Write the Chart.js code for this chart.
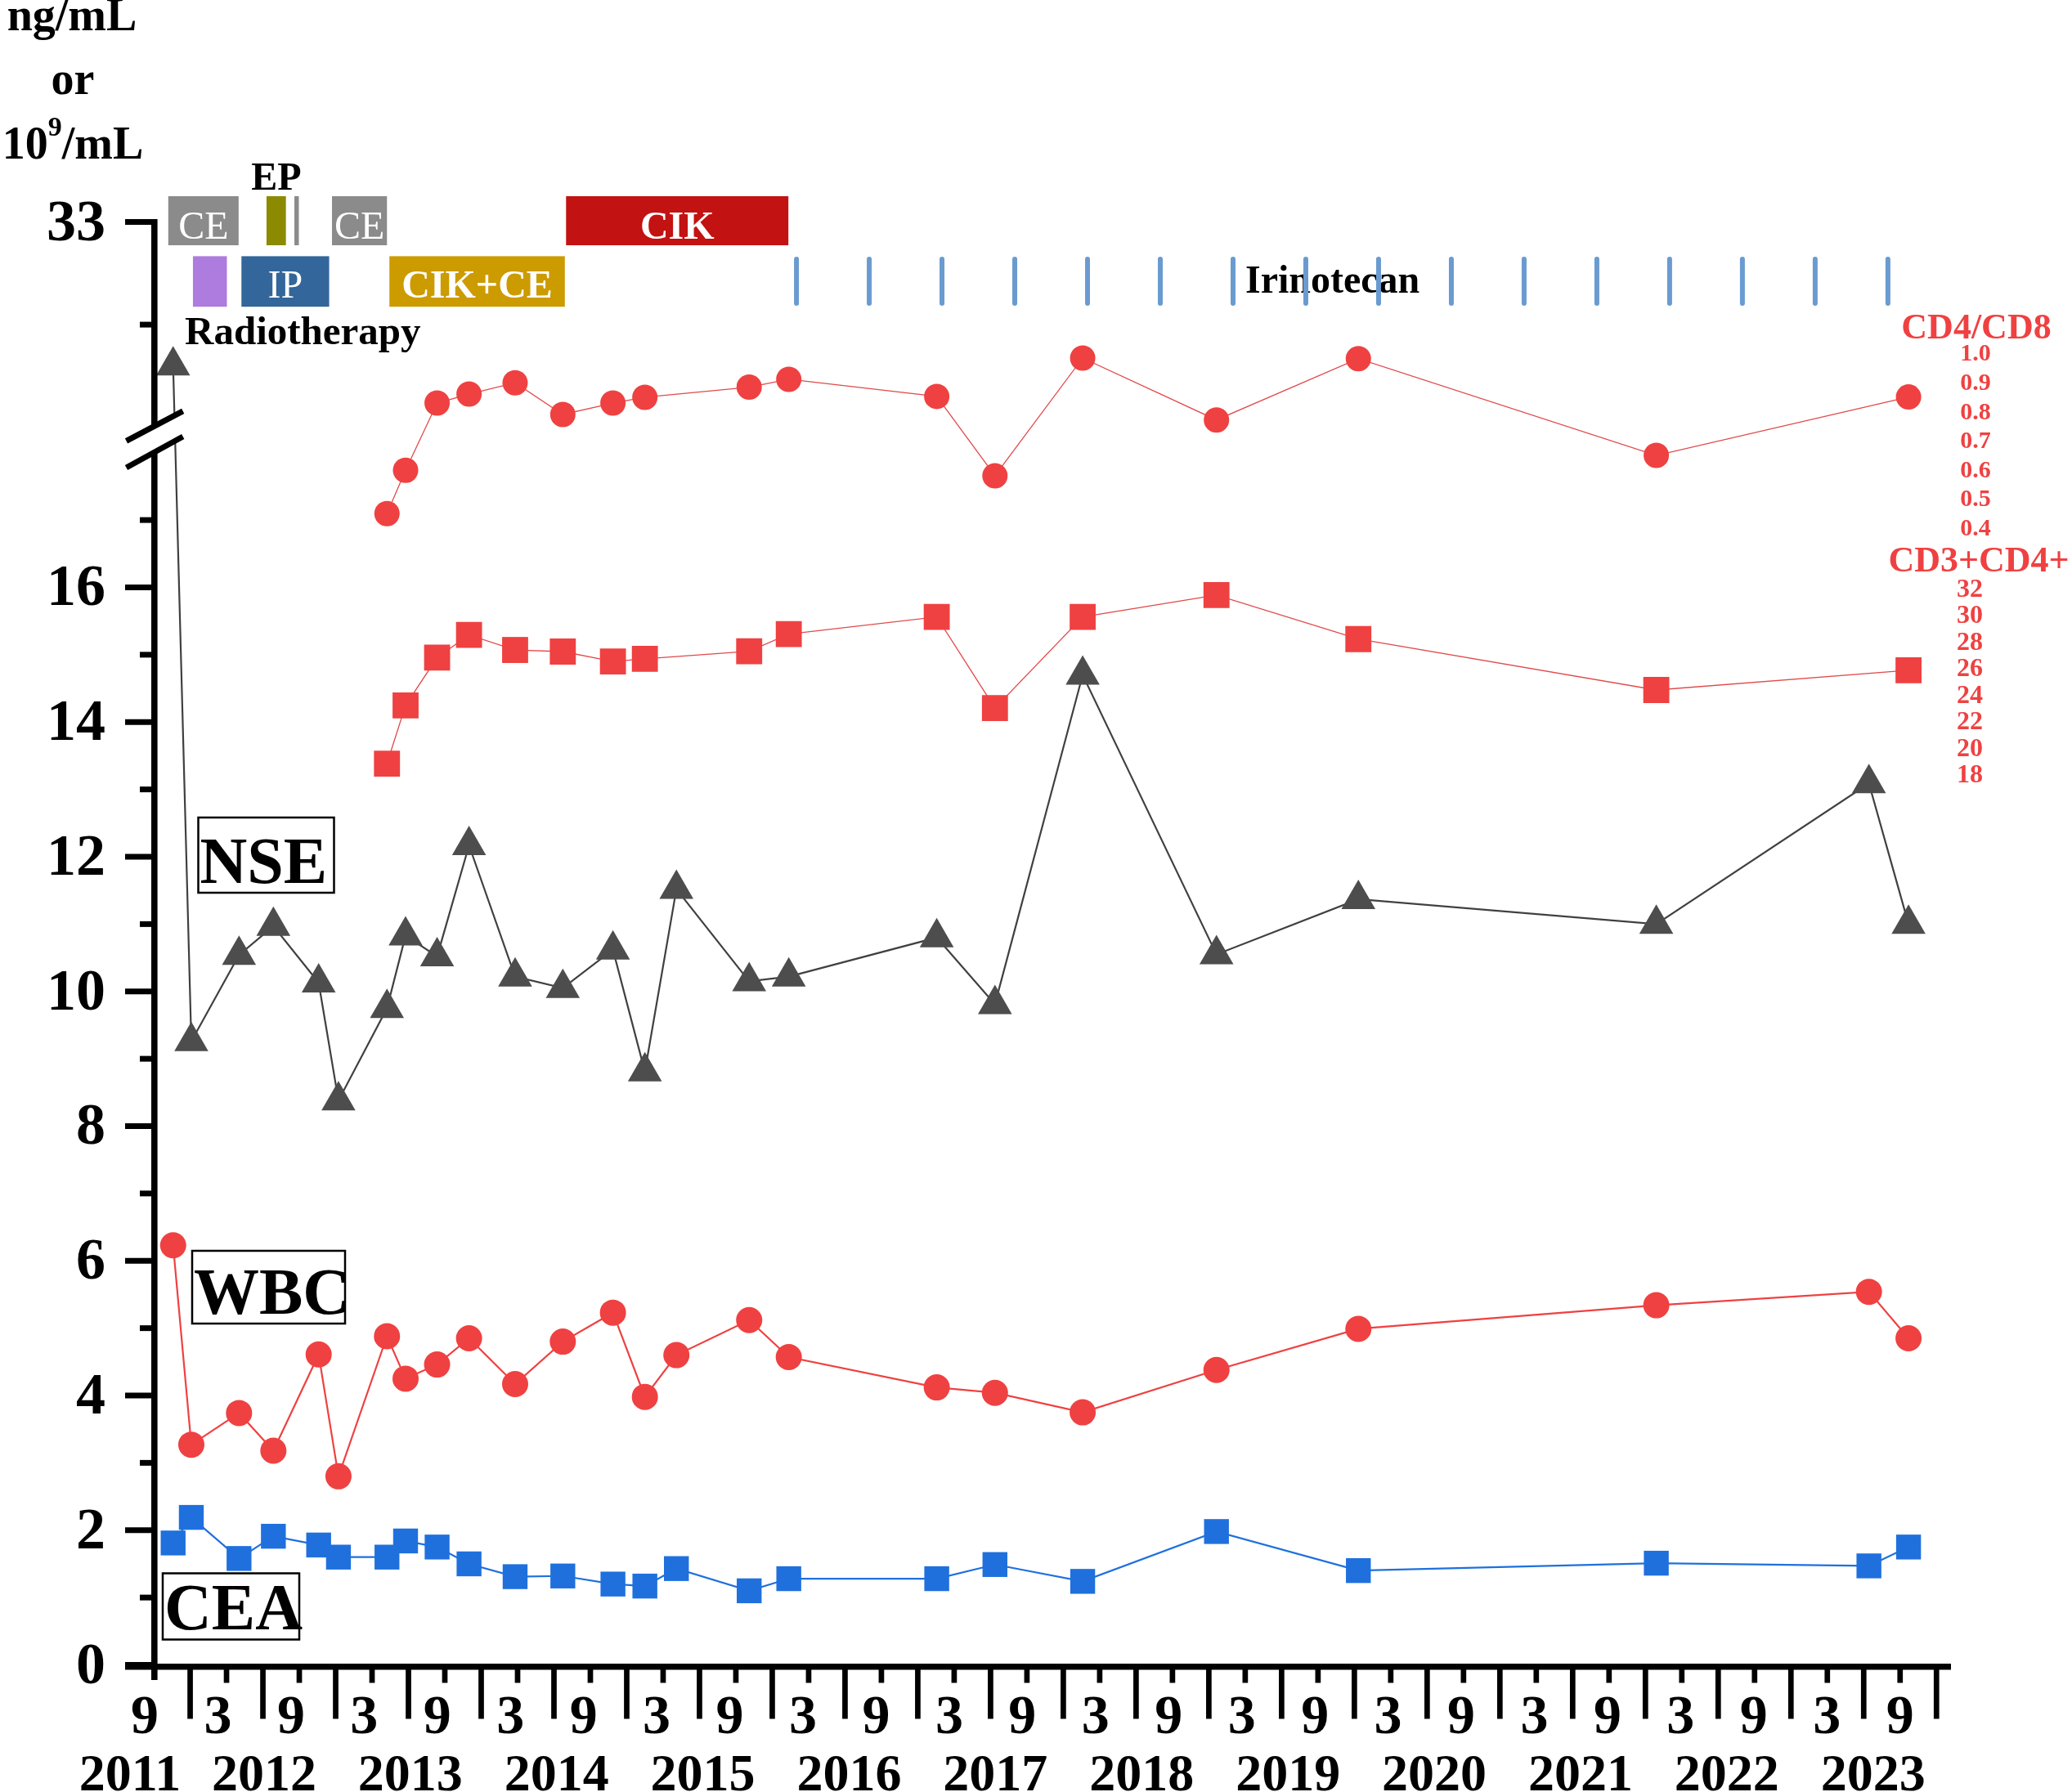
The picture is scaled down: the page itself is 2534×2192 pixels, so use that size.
<!DOCTYPE html>
<html>
<head>
<meta charset="utf-8">
<script src="https://cdn.jsdelivr.net/npm/chart.js@4.4.1/dist/chart.umd.min.js"></script>
<style>
  html, body { margin: 0; padding: 0; background: #fff; }
  #wrap { width: 2534px; height: 2192px; position: relative; }
</style>
</head>
<body>
<div id="wrap"><canvas id="chart"></canvas></div>
<script>
// sampling dates (months from 9/2011)
const sampleDates = ['2011-10-19', '2011-12-04', '2012-04-02', '2012-06-27', '2012-10-19',
  '2012-12-08', '2013-04-08', '2013-05-24', '2013-08-12', '2013-11-01', '2014-02-25',
  '2014-06-23', '2014-10-27', '2015-01-16', '2015-04-04', '2015-10-04', '2016-01-12',
  '2017-01-18', '2017-06-12', '2018-01-19', '2018-12-20', '2019-12-11', '2021-12-28',
  '2023-06-14', '2023-09-22'];

const nse = [31.6, 9.26, 10.54, 10.97, 10.13, 8.38, 9.75, 10.83, 10.52, 12.17, 10.22, 10.05,
  10.62, 8.81, 11.52, 10.15, 10.22, 10.80, 9.81, 14.70, 10.55, 11.37, 11.0, 13.09, 11.0];
const wbc = [6.23, 3.27, 3.74, 3.18, 4.61, 2.80, 4.88, 4.25, 4.46, 4.85, 4.17, 4.80, 5.23,
  3.98, 4.60, 5.12, 4.57, 4.12, 4.04, 3.75, 4.38, 4.99, 5.34, 5.54, 4.85];
const cea = [1.81, 2.19, 1.58, 1.91, 1.78, 1.60, 1.60, 1.84, 1.75, 1.50, 1.31, 1.32, 1.20,
  1.17, 1.43, 1.10, 1.28, 1.28, 1.49, 1.24, 1.98, 1.40, 1.51, 1.47, 1.75];
const cd4cd8 = [null, null, null, null, null, null, 0.453, 0.602, 0.833, 0.864, 0.903, 0.794,
  0.833, 0.853, null, 0.888, 0.915, 0.856, 0.583, 0.988, 0.775, 0.986, 0.653, null, 0.854];
const cd3cd4 = [null, null, null, null, null, null, 18.92, 23.3, 26.9, 28.6, 27.47, 27.35,
  26.61, 26.8, null, 27.37, 28.66, 29.96, 23.1, 29.96, 31.6, 28.29, 24.46, null, 25.94];

// left axis ticks (broken axis: 0-18 and 31-33)
const leftTicks = [0, 2, 4, 6, 8, 10, 12, 14, 16, 33];
const leftMinor = [1, 3, 5, 7, 9, 11, 13, 15, 17, 32];
const ratioTicks = [1.0, 0.9, 0.8, 0.7, 0.6, 0.5, 0.4];
const cd3Ticks = [32, 30, 28, 26, 24, 22, 20, 18];
const monthLabels = ['9', '3'];
const yearLabels = ['2011', '2012', '2013', '2014', '2015', '2016', '2017', '2018', '2019',
  '2020', '2021', '2022', '2023'];

// treatments
const treatLabels = ['CE', '', 'IP', '', '', 'CE', 'CIK+CE', 'CIK'];
const treatStart = ['2011-10-07', '2011-12-08', '2012-04-08', '2012-06-10', '2012-08-19',
  '2012-11-22', '2013-04-14', '2014-07-01'];
const treatEnd = ['2012-04-01', '2012-03-02', '2012-11-15', '2012-07-28', '2012-08-30',
  '2013-04-08', '2014-06-28', '2016-01-11'];
const treatRow = [0, 1, 1, 0, 0, 0, 1, 0];
const irinotecanDates = ['2016-02-01', '2016-08-01', '2017-02-01', '2017-08-01', '2018-02-01',
  '2018-08-01', '2019-02-01', '2019-08-01', '2020-02-01', '2020-08-01', '2021-02-01',
  '2021-08-01', '2022-02-01', '2022-08-01', '2023-02-01', '2023-08-01'];

// styles
const RED = '#ef4141';
const BLUE = '#1f70dd';
const GREY = '#4d4d4d';
const treatColors = ['#8b8b8b', '#ae7bde', '#33669a', '#8c8a00', '#8b8b8b', '#8b8b8b', '#cc9b00', '#c31212'];
const treatBold = [false, false, false, false, false, false, true, true];
const FONT = "'Liberation Serif', 'Times New Roman', serif";

function monthsOf(d) {
  const [y, mo, da] = d.split('-').map(Number);
  return (y - 2011) * 12 + (mo - 9) + (da - 1) / 30;
}
function pts(values) {
  return sampleDates.map((d, i) => values[i] == null ? null : { x: monthsOf(d), y: values[i] })
    .filter(p => p);
}

// broken y scale: 0..18 linear, tiny gap, then 31..33 stretched
const GAP_U = 0.377, HIGH_K = 1.5247;
function toU(v) {
  if (v <= 18) return v;
  if (v < 31) return 18 + (v - 18) / 13 * GAP_U;
  return 18 + GAP_U + (v - 31) * HIGH_K;
}
function fromU(u) {
  if (u <= 18) return u;
  if (u < 18 + GAP_U) return 18 + (u - 18) / GAP_U * 13;
  return 31 + (u - 18 - GAP_U) / HIGH_K;
}
const Linear = Chart.LinearScale || Chart.scales.LinearScale;
class BrokenScale extends Linear {
  getPixelForValue(value) { return super.getPixelForValue(toU(value)); }
  getValueForPixel(pixel) { return fromU(super.getValueForPixel(pixel)); }
}
BrokenScale.id = 'broken';
BrokenScale.defaults = Linear.defaults;
Chart.register(BrokenScale);

function txt(ctx, s, x, y, size, opts) {
  opts = opts || {};
  ctx.font = (opts.bold === false ? '' : 'bold ') + size + 'px ' + FONT;
  ctx.fillStyle = opts.color || '#000';
  ctx.textAlign = opts.align || 'center';
  ctx.textBaseline = opts.baseline || 'alphabetic';
  ctx.fillText(s, x, y);
}

const overlay = {
  id: 'overlay',
  afterDatasetsDraw(chart) {
    const ctx = chart.ctx;
    const xs = chart.scales.x, ys = chart.scales.y, yr = chart.scales.yR, yc = chart.scales.yC;
    const X = m => xs.getPixelForValue(m);
    const Y = v => ys.getPixelForValue(v);
    const x0 = X(0), y0 = Y(0), xEnd = X(148.2);
    ctx.save();
    ctx.fillStyle = '#000';

    // axes
    ctx.fillRect(153, y0 - 1.5, xEnd - 153, 7.5);
    ctx.fillRect(x0 - 3, Y(33) - 3.5, 7.6, y0 + 22 - Y(33));
    leftTicks.forEach(v => ctx.fillRect(x0 - 35, Y(v) - 3.5, 35, 7));
    leftMinor.forEach(v => ctx.fillRect(x0 - 17, Y(v) - 3.5, 17, 7));
    for (let m = 3; m <= 147; m += 6) ctx.fillRect(X(m) - 3.3, y0, 6.7, 66);
    for (let m = 6; m <= 144; m += 6) ctx.fillRect(X(m) - 3.3, y0, 6.7, 22);

    // axis break
    ctx.fillStyle = '#fff';
    ctx.beginPath();
    ctx.moveTo(154, 542); ctx.lineTo(226, 504); ctx.lineTo(226, 532); ctx.lineTo(154, 570);
    ctx.closePath(); ctx.fill();
    ctx.strokeStyle = '#000'; ctx.lineWidth = 7;
    ctx.beginPath();
    ctx.moveTo(154.5, 539.4); ctx.lineTo(223.7, 502.8);
    ctx.moveTo(154.5, 572); ctx.lineTo(223.7, 534);
    ctx.stroke();

    // left tick labels
    leftTicks.forEach(v => txt(ctx, String(v), 129, Y(v) + 22, 72, { align: 'right' }));
    // month / year labels
    for (let i = 0; i <= 24; i++) {
      const m = i * 6;
      const off = -11 * (1 - m / 144);
      txt(ctx, monthLabels[i % 2], X(m) + off, 2120, 68);
    }
    yearLabels.forEach((s, i) => {
      const cx = i === 0 ? X(0) - 29 : X(12 * i) - 11 * (1 - i / 12) - 33;
      txt(ctx, s, cx, 2190, 64);
    });

    // unit label
    txt(ctx, 'ng/mL', 88, 37, 56);
    txt(ctx, 'or', 89, 115, 56);
    ctx.font = 'bold 56px ' + FONT;
    const w10 = ctx.measureText('10').width, wSl = ctx.measureText('/mL').width;
    ctx.font = 'bold 34px ' + FONT;
    const w9 = ctx.measureText('9').width;
    let ux = 89 - (w10 + w9 + wSl) / 2;
    txt(ctx, '10', ux, 194, 56, { align: 'left' }); ux += w10;
    txt(ctx, '9', ux, 166, 34, { align: 'left' }); ux += w9;
    txt(ctx, '/mL', ux, 194, 56, { align: 'left' });

    // right-hand scales (labels only)
    txt(ctx, 'CD4/CD8', 2417, 414, 44, { color: RED });
    ratioTicks.forEach(v => txt(ctx, v.toFixed(1), 2416, yr.getPixelForValue(v), 30,
      { color: RED, baseline: 'middle' }));
    txt(ctx, 'CD3+CD4+', 2420, 699, 44, { color: RED });
    cd3Ticks.forEach(v => txt(ctx, String(v), 2409, yc.getPixelForValue(v), 32,
      { color: RED, baseline: 'middle' }));

    // series name boxes
    ctx.strokeStyle = '#000'; ctx.lineWidth = 2.5;
    [['NSE', 242.5, 1000, 166, 92, 1080], ['WBC', 235, 1530, 187, 89, 1607],
     ['CEA', 199, 1924.5, 167, 81, 1993]].forEach(([s, bx, by, bw, bh, base]) => {
      ctx.strokeRect(bx, by, bw, bh);
      txt(ctx, s, bx + 2, base, 80, { align: 'left' });
    });

    // treatment bars
    const rowTop = [240, 313.4], rowH = [60, 61.8], rowBase = [291.5, 363.5];
    treatLabels.forEach((s, i) => {
      const a = X(monthsOf(treatStart[i])), b = X(monthsOf(treatEnd[i]));
      const r = treatRow[i];
      ctx.fillStyle = treatColors[i];
      ctx.fillRect(a, rowTop[r], b - a, rowH[r]);
      if (s) {
        ctx.save();
        ctx.beginPath(); ctx.rect(a, rowTop[r], b - a, rowH[r]); ctx.clip();
        txt(ctx, s, (a + b) / 2, rowBase[r], 48, { color: '#fff', bold: treatBold[i] });
        ctx.restore();
      }
    });
    const ep = (X(monthsOf(treatStart[3])) + X(monthsOf(treatEnd[3]))) / 2;
    txt(ctx, 'EP', ep, 232, 48);
    txt(ctx, 'Radiotherapy', 226, 421, 49, { align: 'left' });
    txt(ctx, 'Irinotecan', 1523, 358, 48, { align: 'left' });
    ctx.strokeStyle = '#6a9bd0'; ctx.lineWidth = 6; ctx.lineCap = 'round';
    ctx.beginPath();
    irinotecanDates.forEach(d => {
      const px = X(monthsOf(d));
      ctx.moveTo(px, 317); ctx.lineTo(px, 371);
    });
    ctx.stroke();
    ctx.restore();
  }
};

new Chart(document.getElementById('chart'), {
  type: 'line',
  data: {
    datasets: [
      { label: 'CD4/CD8', data: pts(cd4cd8), yAxisID: 'yR', borderColor: '#e04a4a', borderWidth: 1.3,
        pointStyle: 'circle', pointRadius: 15.5, pointBackgroundColor: RED, pointBorderWidth: 0 },
      { label: 'CD3+CD4+', data: pts(cd3cd4), yAxisID: 'yC', borderColor: '#e04a4a', borderWidth: 1.3,
        pointStyle: 'rect', pointRadius: 22.5, pointBackgroundColor: RED, pointBorderWidth: 0 },
      { label: 'CEA', data: pts(cea), yAxisID: 'y', borderColor: BLUE, borderWidth: 2.2,
        pointStyle: 'rect', pointRadius: 21.5, pointBackgroundColor: BLUE, pointBorderWidth: 0 },
      { label: 'WBC', data: pts(wbc), yAxisID: 'y', borderColor: RED, borderWidth: 2.2,
        pointStyle: 'circle', pointRadius: 16, pointBackgroundColor: RED, pointBorderWidth: 0 },
      { label: 'NSE', data: pts(nse), yAxisID: 'y', borderColor: '#404040', borderWidth: 2.2,
        pointStyle: 'triangle', pointRadius: 24, pointBackgroundColor: GREY, pointBorderWidth: 0 }
    ]
  },
  options: {
    responsive: true,
    maintainAspectRatio: false,
    devicePixelRatio: 1,
    animation: false,
    layout: { padding: { left: 188, right: 148, top: 271.5, bottom: 155.5 } },
    elements: { line: { tension: 0 } },
    datasets: { line: { clip: false } },
    scales: {
      x: { type: 'linear', min: 0, max: 148.2, display: false },
      y: { type: 'broken', min: 0, max: 18 + GAP_U + 2 * HIGH_K, display: false },
      yR: { type: 'linear', min: -3.5086, max: 1.4563, display: false },
      yC: { type: 'linear', min: -48.894, max: 59.675, display: false }
    },
    plugins: { legend: { display: false }, tooltip: { enabled: false } }
  },
  plugins: [overlay]
});
</script>
</body>
</html>
